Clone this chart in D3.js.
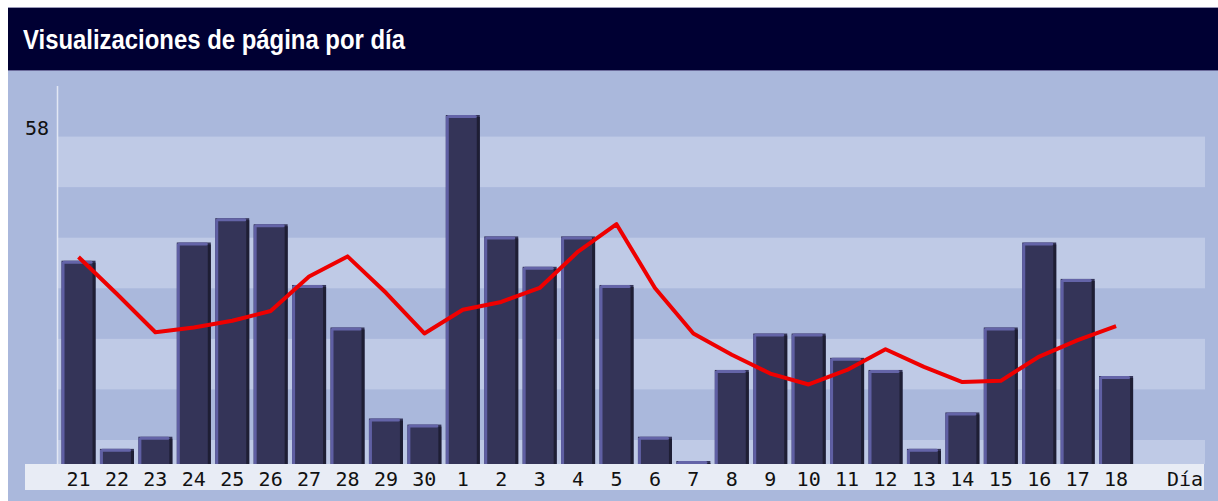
<!DOCTYPE html>
<html>
<head>
<meta charset="utf-8">
<script src="https://cdn.jsdelivr.net/npm/d3@7"></script>
<style>
  html, body { margin: 0; padding: 0; background: #ffffff; }
  svg { display: block; }
</style>
</head>
<body>
<svg id="chart" width="1218" height="501"></svg>
<script>
// ---- data ----
const title = "Visualizaciones de página por día";
const days = ["21","22","23","24","25","26","27","28","29","30",
              "1","2","3","4","5","6","7","8","9","10","11","12","13","14","15","16","17","18"];
const views = [33,2,4,36,40,39,29,22,7,6,
               57,37,32,37,29,4,0,15,21,21,17,15,2,8,22,36,30,14];
const trend = [34.1,28.0,21.7,22.5,23.6,25.2,30.9,34.2,28.2,21.5,
               25.4,26.7,29.0,35.0,39.5,29.0,21.5,18.0,14.9,13.1,15.5,18.9,16.0,13.5,13.7,17.7,20.4,22.7];
const yTickLabels = ["58"];
const axisName = "Día";

// ---- layout ----
const W = 1218, H = 501;
const plot = { left: 57, right: 1205, top: 86, bottom: 464 };
const svg = d3.select("#chart");

// outer frame
svg.append("rect").attr("x", 8).attr("y", 7).attr("width", W - 8).attr("height", H - 7).attr("fill", "#aab8dc");
// title bar
svg.append("rect").attr("x", 8).attr("y", 8).attr("width", W - 8).attr("height", 62).attr("fill", "#000033");
svg.append("line").attr("x1", 8).attr("x2", W).attr("y1", 7.5).attr("y2", 7.5).attr("stroke", "#9a9ab8");
svg.append("line").attr("x1", 8).attr("x2", W).attr("y1", 70.5).attr("y2", 70.5).attr("stroke", "#6b6b9b");
svg.append("text")
  .attr("x", 23).attr("y", 49)
  .attr("fill", "#ffffff")
  .attr("font-family", "'Liberation Sans', Arial, sans-serif")
  .attr("font-weight", "bold")
  .attr("font-size", 27)
  .attr("textLength", 382)
  .attr("lengthAdjust", "spacingAndGlyphs")
  .text(title);

// plot background bands
const nBands = 7;
const bandH = (440 - plot.top) / nBands;
svg.append("rect").attr("x", plot.left).attr("y", plot.top)
  .attr("width", plot.right - plot.left).attr("height", plot.bottom - plot.top).attr("fill", "#aab8dc");
const bandStarts = d3.range(1, nBands + 1, 2).map(i => plot.top + i * bandH);
svg.selectAll("rect.band").data(bandStarts).join("rect")
  .attr("class", "band")
  .attr("x", plot.left).attr("width", plot.right - plot.left)
  .attr("y", d => d)
  .attr("height", d => Math.min(bandH, plot.bottom - d))
  .attr("fill", "#bfcae6");

// y axis line
svg.append("line").attr("x1", plot.left + 0.5).attr("x2", plot.left + 0.5)
  .attr("y1", plot.top).attr("y2", plot.bottom)
  .attr("stroke", "#e2e7f4").attr("stroke-width", 1.5);

// scales
const x = d3.scaleBand().domain(days).range([59.3, 1135.3]).paddingInner(0.115).paddingOuter(0.0575);
const maxV = d3.max(views);
const y = d3.scaleLinear().domain([0, maxV]).range([plot.bottom, plot.bottom - maxV * 6.07]);
const cap = 3;
const bw = x.bandwidth();

// label strip
svg.append("rect").attr("x", 25).attr("y", plot.bottom).attr("width", plot.right - 1 - 25).attr("height", 26).attr("fill", "#e8ecf5");

// bars
const g = svg.append("g");
const bars = g.selectAll("g.bar").data(days.map((d, i) => ({ d, v: views[i] }))).join("g").attr("class", "bar");
bars.append("rect")
  .attr("x", p => x(p.d)).attr("y", p => y(p.v) - cap)
  .attr("width", bw).attr("height", p => plot.bottom - y(p.v) + cap)
  .attr("fill", "#343458");
bars.append("rect")
  .attr("x", p => x(p.d)).attr("y", p => y(p.v) - cap + 1)
  .attr("width", 3).attr("height", p => plot.bottom - y(p.v) + cap - 1)
  .attr("fill", "#5f5fa3");
bars.append("rect")
  .attr("x", p => x(p.d) + bw - 3).attr("y", p => y(p.v) - cap + 2)
  .attr("width", 3).attr("height", p => plot.bottom - y(p.v) + cap - 2)
  .attr("fill", "#1e1e34");
bars.append("rect")
  .attr("x", p => x(p.d) + 1).attr("y", p => y(p.v) - cap)
  .attr("width", bw - 4).attr("height", 3).attr("rx", 1.5)
  .attr("fill", "#6464a8");

// trend line
const line = d3.line()
  .x((v, i) => x(days[i]) + bw / 2)
  .y(v => y(v));
svg.append("path").datum(trend)
  .attr("d", line)
  .attr("fill", "none")
  .attr("stroke", "#ee0000")
  .attr("stroke-width", 4)
  .attr("stroke-linejoin", "round");

// labels
const labelFont = "'DejaVu Sans Mono', monospace";
svg.selectAll("text.ytick").data(yTickLabels).join("text")
  .attr("class", "ytick")
  .attr("x", 49).attr("y", y(maxV) + 17)
  .attr("text-anchor", "end")
  .attr("font-family", labelFont).attr("font-size", 20).attr("fill", "#111111")
  .text(d => d);

svg.selectAll("text.xlab").data(days).join("text")
  .attr("class", "xlab")
  .attr("x", d => x(d) + bw / 2).attr("y", 486)
  .attr("text-anchor", "middle")
  .attr("font-family", labelFont).attr("font-size", 20).attr("fill", "#111111")
  .text(d => d);

svg.append("text")
  .attr("x", 1203).attr("y", 486)
  .attr("text-anchor", "end")
  .attr("font-family", labelFont).attr("font-size", 20).attr("fill", "#111111")
  .text(axisName);
</script>
</body>
</html>
